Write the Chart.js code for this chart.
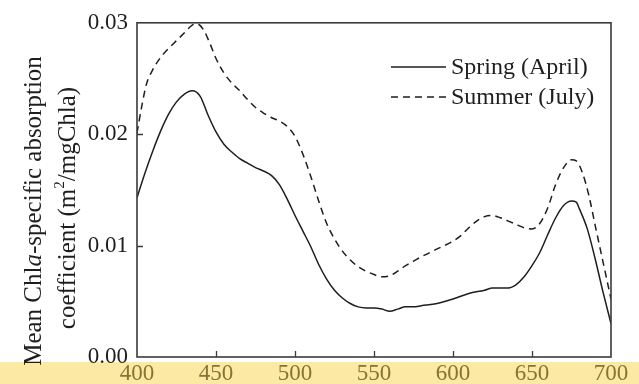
<!DOCTYPE html>
<html>
<head>
<meta charset="utf-8">
<script src="https://cdn.jsdelivr.net/npm/chart.js@4/dist/chart.umd.min.js"></script>
<style>
html,body{margin:0;padding:0;background:#fff;}
#wrap{width:639px;height:384px;position:relative;}
</style>
</head>
<body>
<div id="wrap"><canvas id="c" width="639" height="384"></canvas></div>
<script>
// ---- data ----
const springWavelengths = [400,405,410,415,420,425,430,435,440,445,450,455,460,465,470,475,480,485,490,495,500,505,510,515,520,525,530,535,540,545,550,555,560,565,570,575,580,590,600,610,620,625,630,635,640,645,650,655,660,665,670,675,678,680,685,690,695,700];
const springValues = [0.0143,0.0165,0.0185,0.0203,0.0218,0.0229,0.0236,0.0239,0.0234,0.0217,0.0202,0.0191,0.0184,0.0178,0.0174,0.0170,0.0167,0.0163,0.0155,0.0142,0.0127,0.0113,0.0099,0.0083,0.0070,0.0060,0.0053,0.0048,0.0045,0.0044,0.0044,0.0043,0.0041,0.0043,0.0045,0.0045,0.0046,0.0048,0.0052,0.0057,0.0060,0.0062,0.0062,0.0062,0.0065,0.0072,0.0082,0.0094,0.0110,0.0125,0.0136,0.0140,0.0139,0.0133,0.0115,0.0088,0.0058,0.0030];
const summerWavelengths = [400,403,406,410,415,420,425,430,435,438,442,446,450,455,460,465,470,475,480,485,490,495,500,505,510,515,520,525,530,535,540,545,550,555,560,565,570,575,580,590,600,605,610,615,620,625,630,635,640,645,650,655,660,665,670,675,678,682,686,690,695,700];
const summerValues = [0.0201,0.0225,0.0245,0.0258,0.0269,0.0277,0.0284,0.0291,0.0298,0.0299,0.0294,0.0282,0.0268,0.0255,0.0246,0.0239,0.0231,0.0224,0.0219,0.0215,0.0212,0.0207,0.0198,0.0182,0.0162,0.0140,0.0120,0.0106,0.0095,0.0087,0.0081,0.0077,0.0074,0.0072,0.0073,0.0077,0.0082,0.0086,0.0090,0.0097,0.0104,0.0109,0.0116,0.0122,0.0126,0.0127,0.0125,0.0122,0.0119,0.0116,0.0115,0.0120,0.0134,0.0155,0.0170,0.0177,0.0176,0.0165,0.0145,0.0118,0.0085,0.0052];
const seriesLabels = ['Spring (April)', 'Summer (July)'];
const xTickValues = [400,450,500,550,600,650,700];
const yTickValues = [0.00,0.01,0.02,0.03];
const yTitleLine1 = ['Mean Chl', 'a', '-specific absorption'];
const yTitleLine2 = ['coefficient (m', '2', '/mgChla)'];

const SERIF = "'Liberation Serif','DejaVu Serif',serif";
const INK = '#1e1e1e';

const frame = {
  id: 'frame',
  beforeDraw(chart) {
    const ctx = chart.ctx, a = chart.chartArea;
    ctx.save();
    ctx.fillStyle = '#fbe9a4';
    ctx.fillRect(0, a.bottom + 5, chart.width, chart.height - a.bottom - 5);
    ctx.restore();
  },
  afterDatasetsDraw(chart) {
    const ctx = chart.ctx, a = chart.chartArea;
    const xs = chart.scales.x, ys = chart.scales.y;
    ctx.save();
    ctx.strokeStyle = '#3a3a3a';
    ctx.lineWidth = 1.6;
    ctx.strokeRect(a.left, a.top, a.right - a.left, a.bottom - a.top);
    ctx.lineWidth = 1.3;
    ctx.beginPath();
    xs.ticks.forEach(t => {
      const px = Math.round(xs.getPixelForValue(t.value)) + 0.5;
      if (px > a.left + 2 && px < a.right - 2) { ctx.moveTo(px, a.bottom); ctx.lineTo(px, a.bottom - 6); }
    });
    ys.ticks.forEach(t => {
      const py = Math.round(ys.getPixelForValue(t.value)) + 0.5;
      if (py > a.top + 2 && py < a.bottom - 2) { ctx.moveTo(a.left, py); ctx.lineTo(a.left + 6, py); }
    });
    ctx.stroke();

    // legend
    const lx0 = 391, lx1 = 446, tx = 451;
    const rows = [67, 97];
    chart.data.datasets.forEach((ds, i) => {
      ctx.strokeStyle = ds.borderColor;
      ctx.lineWidth = 1.5;
      ctx.setLineDash(ds.borderDash || []);
      ctx.beginPath();
      ctx.moveTo(lx0, rows[i]); ctx.lineTo(lx1, rows[i]);
      ctx.stroke();
      ctx.setLineDash([]);
      ctx.fillStyle = INK;
      ctx.font = '24px ' + SERIF;
      ctx.textBaseline = 'middle';
      ctx.textAlign = 'left';
      ctx.fillText(ds.label, tx, rows[i] + 1);
    });

    // y-axis title (two lines, rotated)
    function drawLine(parts, cx, cy, styles) {
      ctx.save();
      ctx.translate(cx, cy);
      ctx.rotate(-Math.PI / 2);
      ctx.textBaseline = 'middle';
      ctx.textAlign = 'left';
      let total = 0;
      parts.forEach((p, k) => { ctx.font = styles[k].font; total += ctx.measureText(p).width; });
      let x = -total / 2;
      parts.forEach((p, k) => {
        ctx.font = styles[k].font;
        ctx.fillStyle = INK;
        ctx.fillText(p, x, styles[k].dy || 0);
        x += ctx.measureText(p).width;
      });
      ctx.restore();
    }
    const f = '25px ' + SERIF;
    drawLine(yTitleLine1, 34, 211, [{font: f}, {font: 'italic ' + f}, {font: f}]);
    drawLine(yTitleLine2, 68, 208, [{font: f}, {font: '15px ' + SERIF, dy: -8}, {font: f}]);
    ctx.restore();
  }
};

new Chart(document.getElementById('c'), {
  type: 'line',
  data: {
    datasets: [
      {
        label: seriesLabels[0],
        data: springWavelengths.map((w, i) => ({x: w, y: springValues[i]})),
        borderColor: INK, borderWidth: 1.5, pointRadius: 0,
        cubicInterpolationMode: 'monotone', fill: false
      },
      {
        label: seriesLabels[1],
        data: summerWavelengths.map((w, i) => ({x: w, y: summerValues[i]})),
        borderColor: INK, borderWidth: 1.5, borderDash: [7, 5], pointRadius: 0,
        cubicInterpolationMode: 'monotone', fill: false
      }
    ]
  },
  options: {
    responsive: false,
    animation: false,
    devicePixelRatio: 1,
    layout: {padding: {left: 0, right: 28, top: 16, bottom: 0}},
    plugins: {legend: {display: false}, tooltip: {enabled: false}},
    scales: {
      x: {
        type: 'linear', min: 400, max: 700,
        afterBuildTicks: s => { s.ticks = xTickValues.map(v => ({value: v})); },
        afterFit: s => { s.height = 27; },
        grid: {display: false, drawTicks: false},
        border: {display: false},
        ticks: {padding: 3, color: '#857434', font: {family: SERIF, size: 23}, maxRotation: 0, autoSkip: false}
      },
      y: {
        min: 0, max: 0.03,
        afterBuildTicks: s => { s.ticks = yTickValues.map(v => ({value: v})); },
        afterFit: s => { s.width = 137; },
        grid: {display: false, drawTicks: false},
        border: {display: false},
        ticks: {padding: 9, color: INK, font: {family: SERIF, size: 23}, callback: v => v.toFixed(2)}
      }
    }
  },
  plugins: [frame]
});
</script>
</body>
</html>
